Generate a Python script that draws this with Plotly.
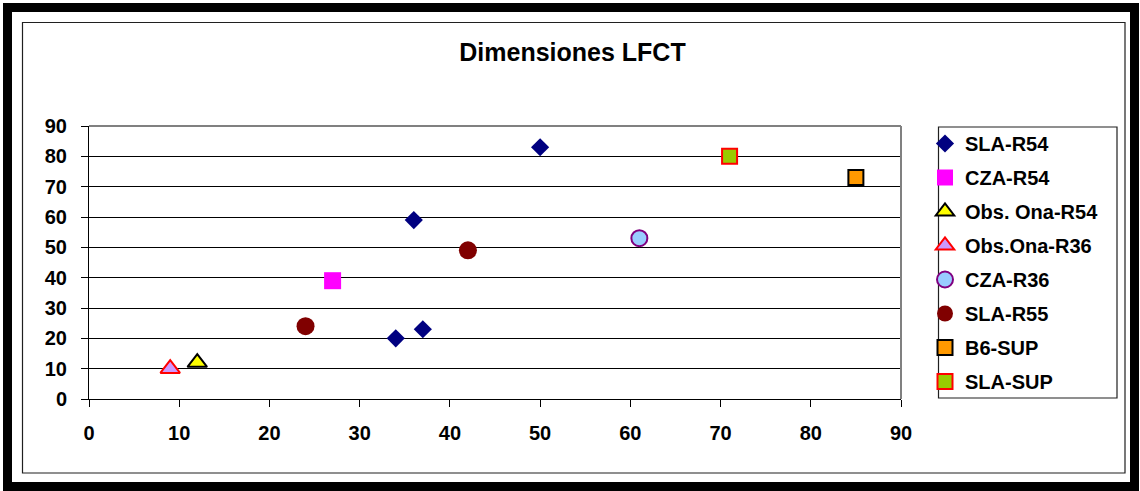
import plotly.graph_objects as go

# ---- data ----
series_names = ["SLA-R54", "CZA-R54", "Obs. Ona-R54", "Obs.Ona-R36",
                "CZA-R36", "SLA-R55", "B6-SUP", "SLA-SUP"]
sla_r54_x = [34, 36, 37, 50]
sla_r54_y = [20, 59, 23, 83]
cza_r54_x = [27]
cza_r54_y = [39]
obs_ona_r54_x = [12]
obs_ona_r54_y = [12]
obs_ona_r36_x = [9]
obs_ona_r36_y = [10]
cza_r36_x = [61]
cza_r36_y = [53]
sla_r55_x = [24, 42]
sla_r55_y = [24, 49]
b6_sup_x = [85]
b6_sup_y = [73]
sla_sup_x = [71]
sla_sup_y = [80]
tick_vals = [0, 10, 20, 30, 40, 50, 60, 70, 80, 90]

xs = [sla_r54_x, cza_r54_x, obs_ona_r54_x, obs_ona_r36_x, cza_r36_x, sla_r55_x, b6_sup_x, sla_sup_x]
ys = [sla_r54_y, cza_r54_y, obs_ona_r54_y, obs_ona_r36_y, cza_r36_y, sla_r55_y, b6_sup_y, sla_sup_y]

styles = [
    dict(symbol="diamond", size=14, color="#000080", line=dict(width=0)),
    dict(symbol="square", size=17, color="#FF00FF", line=dict(width=0)),
    dict(symbol="triangle-up", size=17, color="#FFFF00", line=dict(width=2, color="#000000")),
    dict(symbol="triangle-up", size=17, color="#CC99FF", line=dict(width=2, color="#FF0000")),
    dict(symbol="circle", size=16, color="#99CCFF", line=dict(width=2, color="#800080")),
    dict(symbol="circle", size=18, color="#800000", line=dict(width=0)),
    dict(symbol="square", size=15, color="#FF9900", line=dict(width=2, color="#000000")),
    dict(symbol="square", size=15, color="#99CC00", line=dict(width=2, color="#FF0000")),
]

FONT = "Liberation Sans, Arial, sans-serif"

fig = go.Figure()
for i, (name, x, y, st) in enumerate(zip(series_names, xs, ys, styles)):
    fig.add_trace(go.Scatter(x=x, y=y, mode="markers", name=name,
                             legendgroup=f"g{i}", marker=st))

W, H = 1140, 491
L, R, T, B = 89, 239, 126, 92
PW, PH = W - L - R, H - T - B


def px(xp):
    return (xp - L) / PW


def py(yp):
    return (H - B - yp) / PH


shapes = [
    # outer thick black frame
    dict(type="rect", xref="paper", yref="paper",
         x0=px(7.5), x1=px(1134.5), y0=py(7.5), y1=py(486.5),
         line=dict(color="black", width=9)),
    # inner thin frame
    dict(type="rect", xref="paper", yref="paper",
         x0=px(22.5), x1=px(1125), y0=py(22.5), y1=py(473),
         line=dict(color="#202020", width=1.2)),
    # plot area border (top / right, gray)
    dict(type="line", xref="paper", yref="paper", x0=0, x1=1, y0=1, y1=1,
         line=dict(color="#808080", width=2)),
    dict(type="line", xref="paper", yref="paper", x0=1, x1=1, y0=0, y1=1,
         line=dict(color="#808080", width=2)),
    # legend box
    dict(type="rect", xref="paper", yref="paper",
         x0=px(938.5), x1=px(1117), y0=py(127), y1=py(398),
         line=dict(color="#202020", width=1.2)),
]

fig.update_layout(
    width=W, height=H,
    margin=dict(l=L, r=R, t=T, b=B),
    paper_bgcolor="white", plot_bgcolor="white",
    title=dict(text="Dimensiones LFCT", xref="container", yref="container",
               x=572.5 / W, y=1 - 52.7 / H, xanchor="center", yanchor="middle",
               font=dict(family=FONT, size=25, color="black", weight="bold")),
    xaxis=dict(range=[0, 90], tickvals=tick_vals, showgrid=False, zeroline=False,
               showline=True, linecolor="black", linewidth=1,
               ticks="outside", ticklen=7, tickcolor="black",
               ticklabelstandoff=9,
               tickfont=dict(family=FONT, size=20, color="black", weight="bold")),
    yaxis=dict(range=[0, 90], tickvals=tick_vals, showgrid=True, gridcolor="#000000",
               gridwidth=1, zeroline=False,
               showline=True, linecolor="black", linewidth=1,
               ticks="outside", ticklen=7, tickcolor="black",
               ticklabelstandoff=10,
               tickfont=dict(family=FONT, size=20, color="black", weight="bold")),
    legend=dict(x=px(925), y=py(124), xanchor="left", yanchor="top",
                borderwidth=0, bgcolor="rgba(0,0,0,0)", maxheight=480,
                traceorder="grouped", tracegroupgap=5,
                font=dict(family=FONT, size=20, color="black", weight="bold")),
    shapes=shapes,
    showlegend=True,
)

fig.write_html("out.html", config={"displayModeBar": False},
               post_script="document.body.style.margin='0';")
